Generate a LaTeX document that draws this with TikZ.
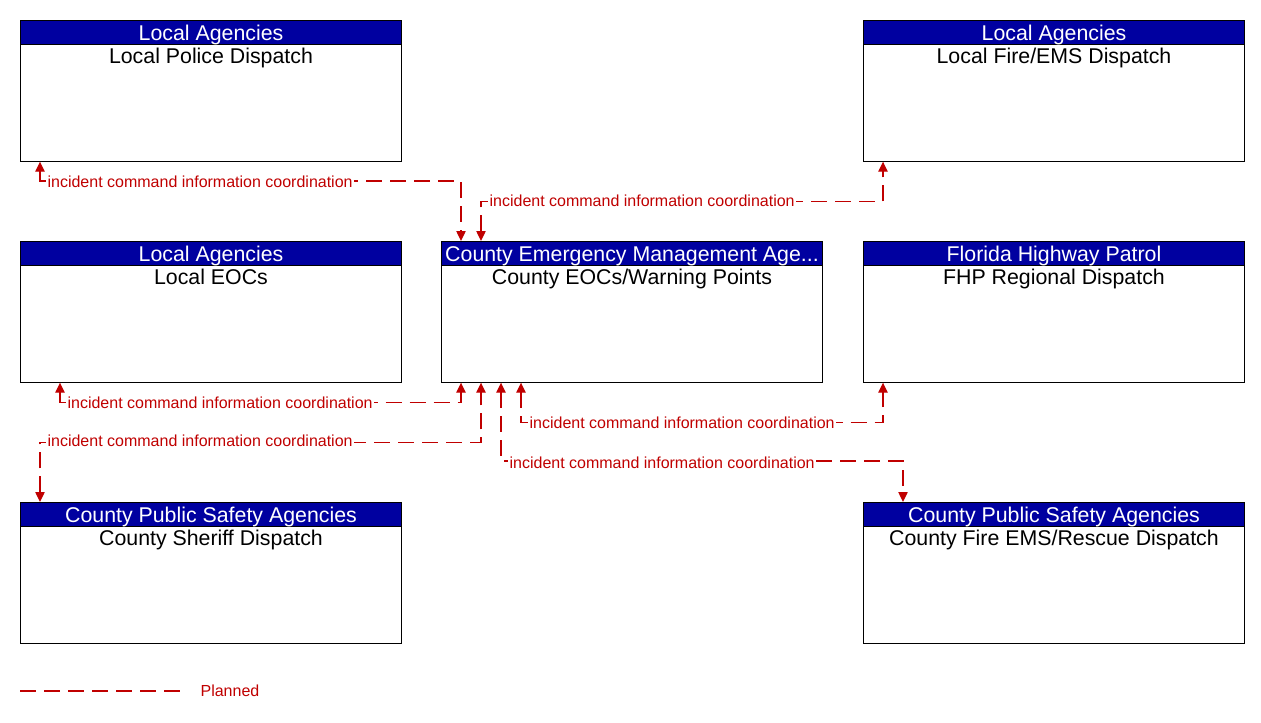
\documentclass[tikz,border=0pt]{standalone}
\usepackage{fontspec}
\setmainfont{Liberation Sans}
\usetikzlibrary{
  arrows.meta,
  positioning,
  calc
}
\definecolor{ArcNavy}{HTML}{0000A0}
\definecolor{ArcRed}{HTML}{C00000}

\begin{document}
\begin{tikzpicture}[
x=0.75pt,
y=-0.75pt,
font=\fontsize{16}{18}\selectfont,
sysbox/.style={
draw=black,
line width=0.75pt,
fill=white,
inner sep=0pt,
minimum width=285.75pt,
minimum height=105.5pt,
anchor=north west
},
hdr/.style={
draw=black,
line width=0.75pt,
fill=ArcNavy,
text=white,
inner sep=0pt,
minimum width=285.75pt,
minimum height=18pt,
text height=11.5pt,
text depth=0pt,
anchor=north
},
sysname/.style={
inner sep=0pt,
anchor=base
},
link/.style={
draw=ArcRed,
line width=1pt,
dash pattern=on 12pt off 6pt,
{Triangle[length=7.5pt,width=7pt]}-{Triangle[length=7.5pt,width=7pt]}
},
lbl/.style={
text=ArcRed,
fill=white,
inner sep=1pt,
text height=8.6pt,
text depth=0pt,
font=\fontsize{12}{14}\selectfont,
anchor=west
}
]
\useasboundingbox (0,0) rectangle (1261,722);

% Boxes - header on top line, system name below
\node[sysbox] (police) at (20,20) {};
\node[hdr] (police-h) at (police.north) {Local Agencies};
\node[sysname] (police-t) at ($(police.north)+(0,43)$) {Local Police Dispatch};

\node[sysbox] (fire) at (863,20) {};
\node[hdr] (fire-h) at (fire.north) {Local Agencies};
\node[sysname] (fire-t) at ($(fire.north)+(0,43)$) {Local Fire/EMS Dispatch};

\node[sysbox] (leoc) at (20,241) {};
\node[hdr] (leoc-h) at (leoc.north) {Local Agencies};
\node[sysname] (leoc-t) at ($(leoc.north)+(0,43)$) {Local EOCs};

\node[sysbox] (ceoc) at (441,241) {};
\node[hdr] (ceoc-h) at (ceoc.north) {County Emergency Management Age...};
\node[sysname] (ceoc-t) at ($(ceoc.north)+(0,43)$) {County EOCs/Warning Points};

\node[sysbox] (fhp) at (863,241) {};
\node[hdr] (fhp-h) at (fhp.north) {Florida Highway Patrol};
\node[sysname] (fhp-t) at ($(fhp.north)+(0,43)$) {FHP Regional Dispatch};

\node[sysbox] (sheriff) at (20,502) {};
\node[hdr] (sheriff-h) at (sheriff.north) {County Public Safety Agencies};
\node[sysname] (sheriff-t) at ($(sheriff.north)+(0,43)$) {County Sheriff Dispatch};

\node[sysbox] (cfire) at (863,502) {};
\node[hdr] (cfire-h) at (cfire.north) {County Public Safety Agencies};
\node[sysname] (cfire-t) at ($(cfire.north)+(0,43)$) {County Fire EMS/Rescue Dispatch};

% Flows - all planned, both directions
\draw[link] ($(police.south west)+(20,0)$) |- ($(ceoc.north west)+(20,-60)$) -- ($(ceoc.north west)+(20,0)$);
\node[lbl] (police-l) at ($(police.south west)+(26,20)$) {incident command information coordination};

\draw[link] ($(ceoc.north west)+(40,0)$) |- ($(fire.south west)+(20,40)$) -- ($(fire.south west)+(20,0)$);
\node[lbl] (fire-l) at ($(ceoc.north west)+(47,-40)$) {incident command information coordination};

\draw[link] ($(leoc.south west)+(40,0)$) |- ($(ceoc.south west)+(20,20)$) -- ($(ceoc.south west)+(20,0)$);
\node[lbl] (leoc-l) at ($(leoc.south west)+(46,20)$) {incident command information coordination};

\draw[link] ($(sheriff.north west)+(20,0)$) |- ($(ceoc.south west)+(40,60)$) -- ($(ceoc.south west)+(40,0)$);
\node[lbl] (sheriff-l) at ($(sheriff.north west)+(26,-61)$) {incident command information coordination};

\draw[link] ($(ceoc.south west)+(80,0)$) |- ($(fhp.south west)+(20,40)$) -- ($(fhp.south west)+(20,0)$);
\node[lbl] (fhp-l) at ($(ceoc.south west)+(87,40)$) {incident command information coordination};

\draw[link] ($(ceoc.south west)+(60,0)$) |- ($(cfire.north west)+(40,-41)$) -- ($(cfire.north west)+(40,0)$);
\node[lbl] (cfire-l) at ($(ceoc.south west)+(67,80)$) {incident command information coordination};

% Legend
\coordinate (leg-a) at (20,691);
\coordinate (leg-b) at (180,691);
\draw[link, -] (leg-a) -- (leg-b);
\node[lbl, fill=none] (legend) at (199,691) {Planned};

\end{tikzpicture}
\end{document}
